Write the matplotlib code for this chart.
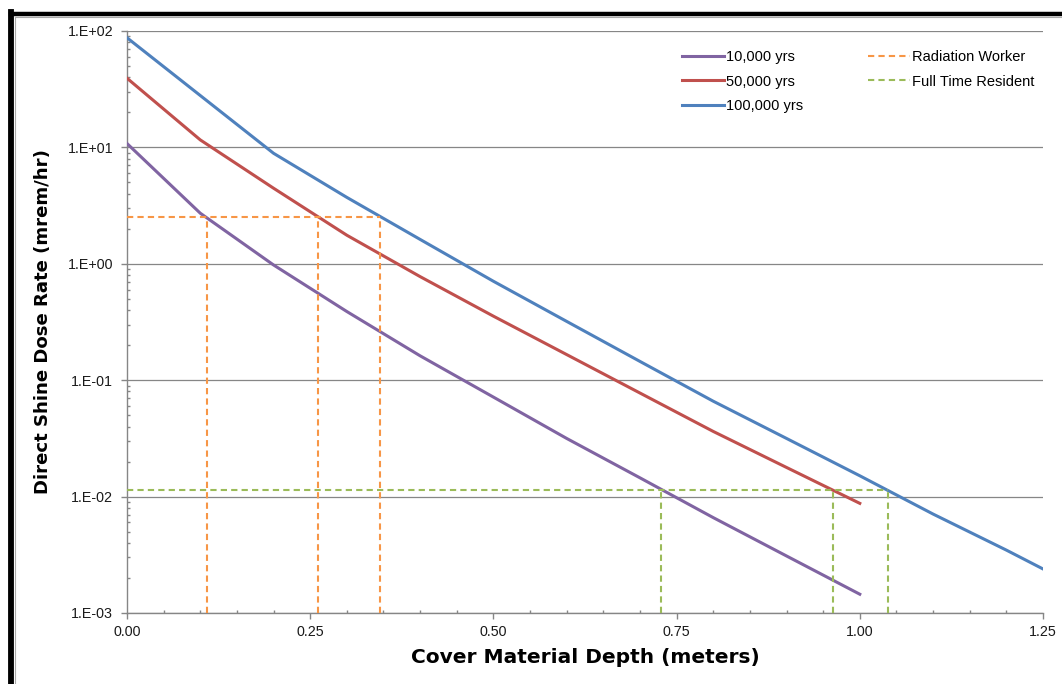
import math
import matplotlib
matplotlib.use("Agg")
import matplotlib.pyplot as plt
from matplotlib.ticker import FixedLocator, FuncFormatter, LogLocator, NullFormatter, MultipleLocator
from matplotlib.lines import Line2D

plt.rcParams['font.family'] = ['Liberation Sans', 'DejaVu Sans']

# ---- data ----
depth_10k = [0.0, 0.1, 0.2, 0.3, 0.4, 0.5, 0.6, 0.7, 0.8, 0.9, 1.0]
dose_10k = [10.8, 2.72, 0.977, 0.389, 0.162, 0.0716, 0.0316, 0.0145, 0.0066, 0.00309, 0.00145]

depth_50k = [0.0, 0.1, 0.2, 0.3, 0.4, 0.5, 0.6, 0.7, 0.8, 0.9, 1.0]
dose_50k = [39.3, 11.6, 4.46, 1.76, 0.776, 0.355, 0.166, 0.0776, 0.0363, 0.0178, 0.00875]

depth_100k = [0.0, 0.1, 0.2, 0.3, 0.4, 0.5, 0.6, 0.7, 0.8, 0.9, 1.0, 1.1, 1.2, 1.25]
dose_100k = [87.5, 27.9, 8.9, 3.72, 1.62, 0.708, 0.32, 0.145, 0.066, 0.0316, 0.0151, 0.00708, 0.00347, 0.00239]

worker_limit = 2.5
worker_depths = [0.109, 0.261, 0.345]
resident_limit = 0.0114
resident_depths = [0.729, 0.963, 1.038]

series_labels = ["10,000 yrs", "50,000 yrs", "100,000 yrs"]
ref_labels = ["Radiation Worker", "Full Time Resident"]
x_ticks = [0.0, 0.25, 0.5, 0.75, 1.0, 1.25]
y_ticks = [1e-3, 1e-2, 1e-1, 1e0, 1e1, 1e2]

c_purple = '#8064A2'
c_red = '#C0504D'
c_blue = '#4F81BD'
c_orange = '#F79646'
c_green = '#9BBB59'
c_axis = '#868686'

fig = plt.figure(figsize=(10.62, 6.84), dpi=100)
ax = fig.add_axes([127/1062, 71/684, 916/1062, 582/684])

lw = 2.2
h1, = ax.plot(depth_10k, dose_10k, color=c_purple, lw=lw, label=series_labels[0], zorder=3)
h2, = ax.plot(depth_50k, dose_50k, color=c_red, lw=lw, label=series_labels[1], zorder=3)
h3, = ax.plot(depth_100k, dose_100k, color=c_blue, lw=lw, label=series_labels[2], zorder=3)

dash_kw = dict(lw=1.5, dashes=(3, 2), zorder=4)
h4, = ax.plot([0, max(worker_depths)], [worker_limit, worker_limit], color=c_orange, label=ref_labels[0], **dash_kw)
for d in worker_depths:
    ax.plot([d, d], [1e-3, worker_limit], color=c_orange, **dash_kw)
h5, = ax.plot([0, max(resident_depths)], [resident_limit, resident_limit], color=c_green, label=ref_labels[1], **dash_kw)
for d in resident_depths:
    ax.plot([d, d], [1e-3, resident_limit], color=c_green, **dash_kw)

ax.set_yscale('log')
ax.set_xlim(0, 1.25)
ax.set_ylim(1e-3, 1e2)

ax.xaxis.set_major_locator(FixedLocator(x_ticks))
ax.xaxis.set_minor_locator(MultipleLocator(0.05))
ax.xaxis.set_major_formatter(FuncFormatter(lambda v, p: f"{v:.2f}"))
ax.yaxis.set_major_locator(FixedLocator(y_ticks))
ax.yaxis.set_minor_locator(LogLocator(base=10, subs=range(2, 10), numticks=20))
ax.yaxis.set_minor_formatter(NullFormatter())

def yfmt(v, p):
    e = int(round(math.log10(v)))
    return f"1.E{'+' if e >= 0 else '-'}{abs(e):02d}"
ax.yaxis.set_major_formatter(FuncFormatter(yfmt))

ax.grid(axis='y', which='major', color=c_axis, lw=0.9, zorder=1)
ax.set_axisbelow(True)
for s in ['top', 'right']:
    ax.spines[s].set_visible(False)
for s in ['left', 'bottom']:
    ax.spines[s].set_color(c_axis)
    ax.spines[s].set_linewidth(1.0)

ax.tick_params(axis='both', which='major', direction='out', length=4, color=c_axis,
               labelsize=10.3, labelcolor='#1a1a1a', width=1)
ax.tick_params(axis='both', which='minor', direction='in', length=2, color=c_axis, width=1)
ax.tick_params(axis='x', which='major', pad=5)
ax.tick_params(axis='y', which='major', pad=6)

ax.set_xlabel("Cover Material Depth (meters)", fontsize=14.5, fontweight='bold',
              family=['DejaVu Sans'], labelpad=6)
ax.set_ylabel("Direct Shine Dose Rate (mrem/hr)", fontsize=13.1, fontweight='bold',
              family=['DejaVu Sans'], labelpad=11)

leg = ax.legend(handles=[h1, h2, h3, h4, h5], ncol=2, loc='upper right',
                bbox_to_anchor=(1.005, 0.990), frameon=False, fontsize=10.5,
                handlelength=2.9, handletextpad=0.15, columnspacing=4.4,
                labelspacing=0.73)

# outer frame (black thick + thin gray inner)
fig.add_artist(Line2D([10.5/1062, 1.0], [1 - 14/684, 1 - 14/684], color='black', lw=3.2, transform=fig.transFigure))
fig.add_artist(Line2D([10.5/1062, 10.5/1062], [0.0, 1 - 12/684], color='black', lw=4.2, transform=fig.transFigure))
fig.add_artist(Line2D([14.5/1062, 1.0], [1 - 17/684, 1 - 17/684], color='#aaaaaa', lw=0.8, transform=fig.transFigure))
fig.add_artist(Line2D([14.5/1062, 14.5/1062], [0.0, 1 - 17/684], color='#aaaaaa', lw=0.8, transform=fig.transFigure))

fig.savefig("out.png", dpi=100)
